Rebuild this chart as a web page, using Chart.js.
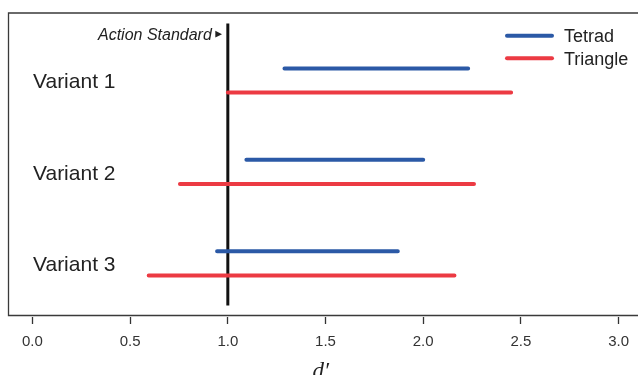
<!DOCTYPE html>
<html>
<head>
<meta charset="utf-8">
<script src="https://cdn.jsdelivr.net/npm/chart.js@4.4.1/dist/chart.umd.min.js"></script>
<style>
  html, body { margin: 0; padding: 0; background: #ffffff; }
  #wrap { width: 638px; height: 375px; }
</style>
</head>
<body>
<div id="wrap"><canvas id="c" width="638" height="375"></canvas></div>
<script>
// ---- data ----
const variants = ['Variant 1', 'Variant 2', 'Variant 3'];
const seriesNames = ['Tetrad', 'Triangle'];
const tetradLow = [1.29, 1.095, 0.945];
const tetradHigh = [2.23, 2.00, 1.87];
const triangleLow = [1.00, 0.755, 0.595];
const triangleHigh = [2.45, 2.26, 2.16];
const actionStandard = 1.0;
const actionLabel = 'Action Standard';
const xTicks = [0.0, 0.5, 1.0, 1.5, 2.0, 2.5, 3.0];
const xTitle = 'd\u2032';

// ---- styling constants ----
const FONT = "'Liberation Sans', Arial, Helvetica, sans-serif";
const BLUE = '#2b59a6';
const RED = '#ec3a43';
const ROW_OFFSET = 0.1324;

function segments(lows, highs, offset) {
  const pts = [];
  lows.forEach((lo, i) => {
    const y = i + 1 + offset;
    pts.push({x: lo, y: y});
    pts.push({x: highs[i], y: y});
    pts.push({x: null, y: null});
  });
  return pts;
}

const framePlugin = {
  id: 'frame',
  beforeDatasetsDraw(chart) {
    const {ctx, chartArea: a} = chart;
    ctx.save();
    ctx.strokeStyle = '#3a3a3a';
    ctx.lineWidth = 1.3;
    const b = a.bottom - 1.5;
    ctx.beginPath();
    ctx.moveTo(chart.width, a.top);
    ctx.lineTo(a.left, a.top);
    ctx.lineTo(a.left, b);
    ctx.lineTo(chart.width, b);
    ctx.stroke();
    ctx.restore();
  }
};

const annotPlugin = {
  id: 'annot',
  afterDatasetsDraw(chart) {
    const {ctx} = chart;
    const xs = chart.scales.x, ys = chart.scales.y;
    ctx.save();
    // category labels
    ctx.fillStyle = '#222';
    ctx.font = '21px ' + FONT;
    ctx.textAlign = 'left';
    ctx.textBaseline = 'alphabetic';
    variants.forEach((v, i) => {
      ctx.fillText(v, 33, ys.getPixelForValue(i + 1) + 8);
    });
    // action standard label
    const ax = xs.getPixelForValue(actionStandard);
    ctx.font = 'italic 16px ' + FONT;
    ctx.textAlign = 'right';
    ctx.fillText(actionLabel, ax - 16, 40);
    ctx.beginPath();
    ctx.moveTo(ax - 12.5, 30.8);
    ctx.lineTo(ax - 12.5, 37.6);
    ctx.lineTo(ax - 5.8, 34.2);
    ctx.closePath();
    ctx.fill();
    // legend
    const colors = [BLUE, RED];
    const ly = [35.7, 58.3];
    ctx.font = '18px ' + FONT;
    ctx.textAlign = 'left';
    seriesNames.forEach((n, i) => {
      ctx.strokeStyle = colors[i];
      ctx.lineWidth = 4;
      ctx.lineCap = 'round';
      ctx.beginPath();
      ctx.moveTo(507, ly[i]);
      ctx.lineTo(552, ly[i]);
      ctx.stroke();
      ctx.fillStyle = '#222';
      ctx.fillText(n, 564, ly[i] + 6.2);
    });
    // x axis title
    ctx.font = "italic 23px 'Liberation Serif', 'Times New Roman', serif";
    ctx.textAlign = 'center';
    ctx.fillText(xTitle, (chart.chartArea.left + chart.chartArea.right) / 2 - 2, 378);
    ctx.restore();
  }
};

new Chart(document.getElementById('c'), {
  type: 'scatter',
  data: {
    datasets: [
      {
        label: seriesNames[0],
        data: segments(tetradLow, tetradHigh, -ROW_OFFSET),
        showLine: true, spanGaps: false,
        borderColor: BLUE, borderWidth: 4, borderCapStyle: 'round',
        pointRadius: 0, pointHoverRadius: 0
      },
      {
        label: seriesNames[1],
        data: segments(triangleLow, triangleHigh, ROW_OFFSET),
        showLine: true, spanGaps: false,
        borderColor: RED, borderWidth: 4, borderCapStyle: 'round',
        pointRadius: 0, pointHoverRadius: 0
      },
      {
        label: actionLabel,
        data: [{x: actionStandard, y: 0.377}, {x: actionStandard, y: 3.463}],
        showLine: true,
        borderColor: '#111', borderWidth: 3, borderCapStyle: 'butt',
        pointRadius: 0, pointHoverRadius: 0
      }
    ]
  },
  options: {
    responsive: false,
    animation: false,
    devicePixelRatio: 1,
    layout: { padding: { left: 8.5, right: 0, top: 13, bottom: 0 } },
    plugins: { legend: { display: false }, tooltip: { enabled: false } },
    scales: {
      x: {
        type: 'linear',
        min: -0.1226, max: 3.0945,
        afterBuildTicks: (s) => { s.ticks = xTicks.map(v => ({value: v})); },
        afterFit: (s) => { s.height = 58; },
        border: { display: false },
        grid: { drawOnChartArea: false, drawTicks: true, tickLength: 7, tickColor: '#333', tickWidth: 1.3 },
        ticks: {
          padding: 9,
          color: '#333',
          font: { family: FONT, size: 15 },
          callback: (v) => Number(v).toFixed(1),
          maxRotation: 0
        }
      },
      y: {
        type: 'linear',
        display: false,
        reverse: true,
        min: 0.2615, max: 3.5875
      }
    }
  },
  plugins: [framePlugin, annotPlugin]
});
</script>
</body>
</html>
